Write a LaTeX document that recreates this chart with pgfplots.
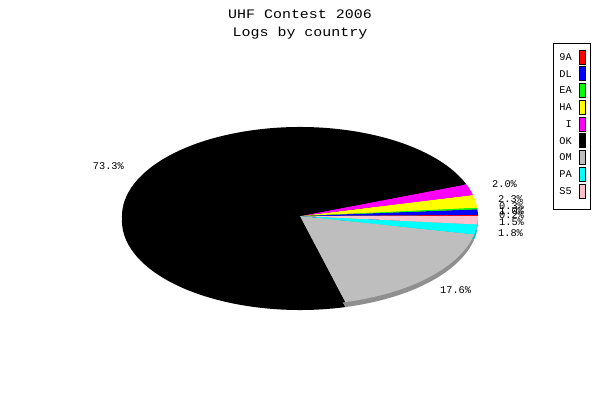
\documentclass[border=0pt]{standalone}
\usepackage{pgfplots}
\usepackage{pgfplotstable}
\pgfplotsset{compat=1.18}
\usepackage{fontspec}
\setmainfont{Liberation Mono}
\newfontfamily\titlefont[FakeStretch=1.15]{Liberation Mono}
\definecolor{ohred}{RGB}{255,0,0}
\definecolor{ohblue}{RGB}{0,0,255}
\definecolor{ohgreen}{RGB}{0,255,0}
\definecolor{ohyellow}{RGB}{255,255,0}
\definecolor{ohmagenta}{RGB}{255,0,255}
\definecolor{ohblack}{RGB}{0,0,0}
\definecolor{ohgray}{RGB}{190,190,190}
\definecolor{ohcyan}{RGB}{0,255,255}
\definecolor{ohpink}{RGB}{255,192,203}
\newcommand\lblfont{\fontsize{10.3bp}{12bp}\selectfont}

% logs by country, percent; label position in picture units
\pgfplotstableread{
name pct col       lx  ly  anc
9A   0.2 ohred     499 185 west
DL   1.0 ohblue    499 189 west
EA   0.3 ohgreen   499 194 west
HA   2.3 ohyellow  498 201 west
I    2.0 ohmagenta 492 216 west
OK  73.3 ohblack   124 234 east
OM  17.6 ohgray    440 110 west
PA   1.8 ohcyan    498 167 west
S5   1.5 ohpink    499 178 west
}\logs

\begin{document}
\begin{tikzpicture}
\begin{axis}[
    x=1bp, y=1bp,
    xmin=0, xmax=600, ymin=0, ymax=400,
    hide axis,
    clip=false,
]
\addplot[draw=none] coordinates {(0,0) (600,400)};

% shadow (depth) of the pie
\def\angsum{0}
\pgfplotsinvokeforeach{0,...,8}{
  \pgfplotstablegetelem{#1}{pct}\of\logs \let\pct\pgfplotsretval
  \pgfplotstablegetelem{#1}{col}\of\logs \let\col\pgfplotsretval
  \pgfmathsetmacro\angA{\angsum}
  \pgfmathsetmacro\angB{\angsum+3.6*\pct}
  \xdef\angsum{\angB}
  \edef\temp{\noexpand\fill[\col!75!black] (axis cs:300,179) -- ++(\angA:178bp and 89bp)
    arc[start angle=\angA, end angle=\angB, x radius=178bp, y radius=89bp] -- cycle;}
  \temp
}

% top face
\def\angsum{0}
\pgfplotsinvokeforeach{0,...,8}{
  \pgfplotstablegetelem{#1}{pct}\of\logs \let\pct\pgfplotsretval
  \pgfplotstablegetelem{#1}{col}\of\logs \let\col\pgfplotsretval
  \pgfmathsetmacro\angA{\angsum}
  \pgfmathsetmacro\angB{\angsum+3.6*\pct}
  \xdef\angsum{\angB}
  \edef\temp{\noexpand\fill[\col] (axis cs:300,184) -- ++(\angA:178bp and 89bp)
    arc[start angle=\angA, end angle=\angB, x radius=178bp, y radius=89bp] -- cycle;}
  \temp
}

% percent labels
\pgfplotsinvokeforeach{0,...,8}{
  \pgfplotstablegetelem{#1}{pct}\of\logs \let\pct\pgfplotsretval
  \pgfplotstablegetelem{#1}{lx}\of\logs \let\lx\pgfplotsretval
  \pgfplotstablegetelem{#1}{ly}\of\logs \let\ly\pgfplotsretval
  \pgfplotstablegetelem{#1}{anc}\of\logs \let\anc\pgfplotsretval
  \edef\temp{\noexpand\node[anchor=\anc, inner sep=0pt, font=\noexpand\lblfont]
    at (axis cs:\lx,\ly) {\pct\noexpand\%};}
  \temp
}

% legend
\draw[line width=1bp] (axis cs:553,357) rectangle (axis cs:590,191);
\pgfplotsinvokeforeach{0,...,8}{
  \pgfplotstablegetelem{#1}{name}\of\logs \let\nm\pgfplotsretval
  \pgfplotstablegetelem{#1}{col}\of\logs \let\col\pgfplotsretval
  \pgfmathsetmacro\ey{343-16.75*#1}
  \edef\temp{\noexpand\node[anchor=east, inner sep=0pt, font=\noexpand\lblfont]
    at (axis cs:572,\ey) {\nm};}
  \temp
  \edef\temp{\noexpand\filldraw[fill=\col, draw=black, line width=0.8bp]
    (axis cs:579,\ey-7) rectangle (axis cs:585,\ey+7);}
  \temp
}

% title
\node[anchor=base, font=\titlefont\fontsize{13bp}{16bp}\selectfont]
  at (axis cs:300,381.7) {UHF Contest 2006};
\node[anchor=base, font=\titlefont\fontsize{13bp}{16bp}\selectfont]
  at (axis cs:300,363.3) {Logs by country};
\end{axis}
\end{tikzpicture}
\end{document}
